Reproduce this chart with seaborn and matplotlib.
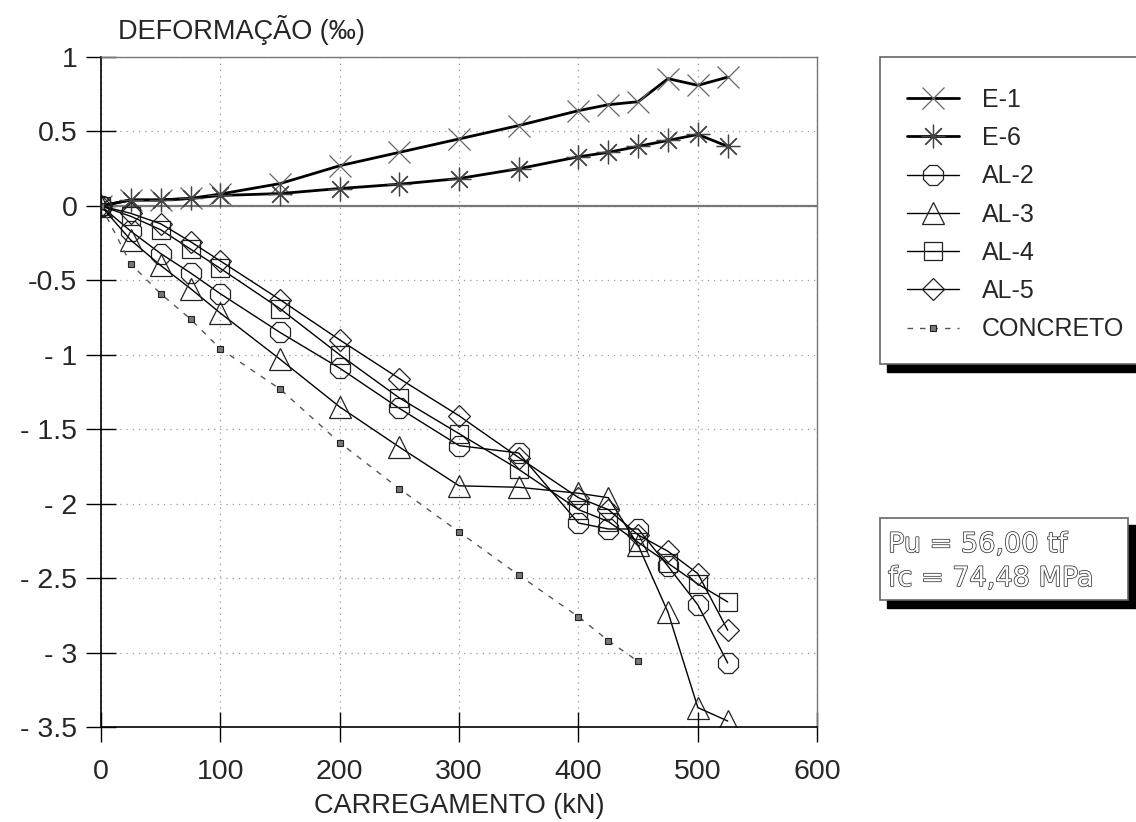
import matplotlib
matplotlib.use("Agg")
import matplotlib.pyplot as plt
import matplotlib.patheffects as pe
from matplotlib.patches import Rectangle
import seaborn as sns

# Dados
carga = [0, 25, 50, 75, 100, 150, 200, 250, 300, 350, 400, 425, 450, 475, 500, 525]
e1 = [0, 0.04, 0.04, 0.05, 0.08, 0.15, 0.27, 0.36, 0.45, 0.54, 0.64, 0.68, 0.70, 0.855, 0.81, 0.865]
e6 = [0, 0.04, 0.04, 0.05, 0.07, 0.083, 0.117, 0.146, 0.184, 0.25, 0.33, 0.36, 0.40, 0.44, 0.48, 0.40]
al2 = [0, -0.17, -0.32, -0.45, -0.59, -0.85, -1.09, -1.36, -1.61, -1.66, -2.13, -2.17, -2.17, -2.42, -2.68, -3.07]
al3 = [0, -0.23, -0.40, -0.555, -0.72, -1.03, -1.35, -1.62, -1.88, -1.89, -1.93, -1.96, -2.28, -2.73, -3.37, -3.46]
al4 = [0, -0.07, -0.16, -0.29, -0.42, -0.69, -1.00, -1.29, -1.53, -1.77, -2.04, -2.12, -2.26, -2.40, -2.54, -2.66]
al5 = [0, -0.05, -0.12, -0.24, -0.37, -0.63, -0.90, -1.16, -1.41, -1.69, -1.96, -2.04, -2.21, -2.32, -2.47, -2.85]
carga_conc = [0, 25, 50, 75, 100, 150, 200, 250, 300, 350, 400, 425, 450]
concreto = [0, -0.39, -0.59, -0.76, -0.96, -1.23, -1.59, -1.90, -2.19, -2.48, -2.76, -2.92, -3.06]

xticks = [0, 100, 200, 300, 400, 500, 600]
yticks = [1, 0.5, 0, -0.5, -1, -1.5, -2, -2.5, -3, -3.5]
yticklabels = ["1", "0.5", "0", "-0.5", "- 1", "- 1.5", "- 2", "- 2.5", "- 3", "- 3.5"]

sns.set_style("white")
plt.rcParams["font.family"] = ["Liberation Sans", "DejaVu Sans"]

fig = plt.figure(figsize=(11.36, 8.22), dpi=100)
ax = fig.add_axes([0.0889, 0.1156, 0.6305, 0.8150])

# grade pontilhada e linha do zero
for t in yticks:
    ax.axhline(t, color="#999999", lw=0.9, ls=(0, (1, 4)), zorder=0)
for t in xticks:
    ax.axvline(t, color="#999999", lw=0.9, ls=(0, (1, 4)), zorder=0)
ax.axhline(0, color="#777777", lw=1.6, zorder=1)

mec = "#222222"
sns.lineplot(x=carga, y=e1, ax=ax, color="black", lw=2, marker="x", markersize=16,
             mew=0.9, markeredgecolor="#666666", label="E-1")
sns.lineplot(x=carga, y=e6, ax=ax, color="black", lw=2, marker=(8, 2, 0), markersize=17,
             mew=0.9, markeredgecolor="#444444", label="E-6")
sns.lineplot(x=carga, y=al2, ax=ax, color="black", lw=1, marker="8", markersize=15,
             mew=0.9, markerfacecolor="none", markeredgecolor=mec, label="AL-2")
sns.lineplot(x=carga, y=al3, ax=ax, color="black", lw=1, marker="^", markersize=16,
             mew=0.9, markerfacecolor="none", markeredgecolor=mec, label="AL-3")
sns.lineplot(x=carga, y=al4, ax=ax, color="black", lw=1, marker="s", markersize=13,
             mew=0.9, markerfacecolor="none", markeredgecolor=mec, label="AL-4")
sns.lineplot(x=carga, y=al5, ax=ax, color="black", lw=1, marker="D", markersize=11,
             mew=0.9, markerfacecolor="none", markeredgecolor=mec, label="AL-5")
sns.lineplot(x=carga_conc, y=concreto, ax=ax, color="#555555", lw=1, marker="s", markersize=4.5,
             mew=0.8, markerfacecolor="#777777", markeredgecolor="#222222", dashes=(4, 5),
             label="CONCRETO")

ax.set_xlim(0, 600)
ax.set_ylim(-3.5, 1)
ax.set_xticks(xticks)
ax.set_xticklabels([str(t) for t in xticks])
ax.set_yticks(yticks)
ax.set_yticklabels(yticklabels)
ax.tick_params(axis="both", direction="inout", length=22, width=1, color="black",
               labelsize=20.5, top=False, right=False, bottom=True, left=True)
ax.tick_params(axis="x", pad=12)
ax.tick_params(axis="y", pad=6)

for s in ["left", "bottom"]:
    ax.spines[s].set_color("black")
    ax.spines[s].set_linewidth(1.2)
for s in ["top", "right"]:
    ax.spines[s].set_color("#777777")
    ax.spines[s].set_linewidth(1.0)

ax.set_xlabel("CARREGAMENTO (kN)", fontsize=19.5, labelpad=6)
ax.set_ylabel("")
fig.text(0.104, 0.963, "DEFORMAÇÃO (‰)", fontsize=19.5, va="center", ha="left")

# legenda com sombra (na figura, por cima das caixas)
handles, labels = ax.get_legend_handles_labels()
if ax.get_legend():
    ax.get_legend().remove()
leg = fig.legend(handles, labels, loc="upper left", bbox_to_anchor=(0.798, 0.893),
                 frameon=False, fontsize=18, handlelength=2.1, handletextpad=0.9,
                 labelspacing=0.57, borderpad=0, borderaxespad=0)
leg.set_zorder(5)
fig.patches.append(Rectangle((887 / 1136, 1 - 372 / 822), 0.3, 10 / 822,
                             transform=fig.transFigure, color="black", zorder=1))
fig.patches.append(Rectangle((880 / 1136, 1 - 364 / 822), 0.3, 307 / 822,
                             transform=fig.transFigure, facecolor="white",
                             edgecolor="#666666", lw=1.2, zorder=2))

# caixa de texto com sombra
fig.patches.append(Rectangle((887 / 1136, 1 - 608 / 822), 0.3, 83 / 822,
                             transform=fig.transFigure, color="black", zorder=1))
fig.patches.append(Rectangle((880 / 1136, 1 - 600 / 822), 248 / 1136, 82 / 822,
                             transform=fig.transFigure, facecolor="white",
                             edgecolor="#666666", lw=1.2, zorder=2))
contorno = [pe.withStroke(linewidth=1.1, foreground="#333333")]
fig.text(888 / 1136, 1 - 545 / 822, "Pu = 56,00 tf", fontsize=19.5, color="white",
         family="DejaVu Sans", va="center", ha="left", path_effects=contorno, zorder=3)
fig.text(888 / 1136, 1 - 579 / 822, "fc = 74,48 MPa", fontsize=19.5, color="white",
         family="DejaVu Sans", va="center", ha="left", path_effects=contorno, zorder=3)

fig.savefig("out.png", dpi=100)
